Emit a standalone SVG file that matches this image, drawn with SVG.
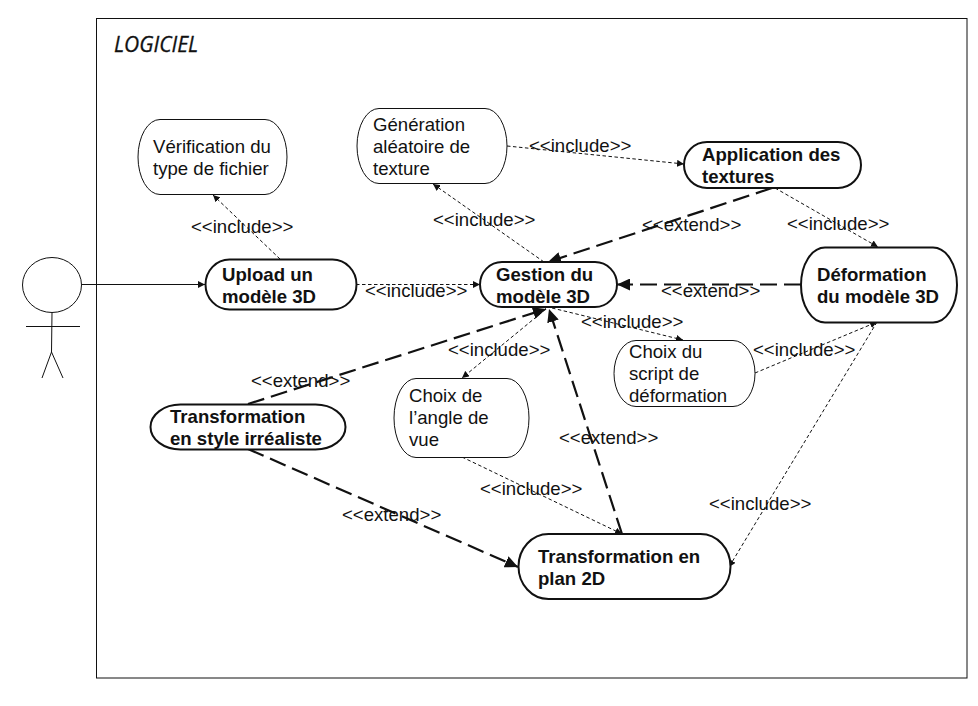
<svg xmlns="http://www.w3.org/2000/svg" width="978" height="706" viewBox="0 0 978 706">
<style>
text{font-family:"Liberation Sans",Arial,sans-serif;font-size:18.6px;fill:#111}
.b{font-weight:bold}
.title{font-family:"Open Sans","Liberation Sans",sans-serif;font-style:italic;font-size:21px;stroke:#111;stroke-width:.3}
.thin{fill:#fff;stroke:#111;stroke-width:1}
.bold{fill:#fff;stroke:#111;stroke-width:2}
.l{fill:none;stroke:#111;stroke-width:1}
.inc{fill:none;stroke:#111;stroke-width:1;stroke-dasharray:3.500 2.500}
.ext{fill:none;stroke:#111;stroke-width:2.200;stroke-dasharray:17 7}
</style>
<defs>
<marker id="s" markerUnits="userSpaceOnUse" markerWidth="8" markerHeight="7" refX="7" refY="3.500" orient="auto"><path d="M0 0L7 3.500L0 7z" fill="#111"/></marker>
<marker id="t" markerUnits="userSpaceOnUse" markerWidth="14" markerHeight="12" refX="13" refY="6" orient="auto"><path d="M0 0L13 6L0 12z" fill="#111"/></marker>
</defs>
<rect x="96.500" y="18.500" width="870.500" height="659.500" fill="#fff" stroke="#111" stroke-width="1"/>
<text class="title" x="114" y="52">LOGICIEL</text>
<g id="actor" class="l">
<ellipse cx="52" cy="285" rx="29.500" ry="27.500"/>
<path d="M52 312.500L51.500 352M26 326.500H80M51.500 352L42 378M51.500 352L63 378"/>
</g>
<g id="connectors">
<path class="l" d="M82 284.500H205" marker-end="url(#s)"/>
<path class="inc" d="M280 259L213 195" marker-end="url(#s)"/>
<path class="inc" d="M544 262L433 184" marker-end="url(#s)"/>
<path class="inc" d="M507 146L684 164" marker-end="url(#s)"/>
<path class="inc" d="M775 188L878 247" marker-end="url(#s)"/>
<path class="inc" d="M356 284.500H480" marker-end="url(#s)"/>
<path class="inc" d="M552 308L683 340" marker-end="url(#s)"/>
<path class="inc" d="M755 373L877 322" marker-end="url(#s)"/>
<path class="inc" d="M877 322L729 567" marker-end="url(#s)"/>
<path class="inc" d="M546 309L462 378" marker-end="url(#s)"/>
<path class="inc" d="M462 457L622 534" marker-end="url(#s)"/>
<path class="ext" d="M772 188L548 262" marker-end="url(#t)"/>
<path class="ext" d="M801 284.500H617" marker-end="url(#t)"/>
<path class="ext" d="M248 404L546 309" marker-end="url(#t)"/>
<path class="ext" d="M622 534L549 309" marker-end="url(#t)"/>
<path class="ext" d="M248 449L518 567" marker-end="url(#t)"/>
</g>
<g id="verif"><rect class="thin" x="138" y="119.500" width="149" height="75" rx="22" ry="37.500"/><text x="153" y="153">Vérification du</text><text x="153" y="175">type de fichier</text></g>
<g id="generation"><rect class="thin" x="357" y="108.500" width="150" height="75" rx="22" ry="37.500"/><text x="373" y="131">Génération</text><text x="373" y="153">aléatoire de</text><text x="373" y="175">texture</text></g>
<g id="upload"><rect class="bold" x="205.500" y="259.500" width="151" height="50" rx="24" ry="25"/><text class="b" x="222" y="281">Upload un</text><text class="b" x="222" y="303">modèle 3D</text></g>
<g id="gestion"><rect class="bold" x="480" y="262" width="137" height="45" rx="22" ry="22.500"/><text class="b" x="496" y="281">Gestion du</text><text class="b" x="496" y="303">modèle 3D</text></g>
<g id="application"><rect class="bold" x="684" y="142" width="177" height="46" rx="23" ry="23"/><text class="b" x="702" y="161">Application des</text><text class="b" x="702" y="183">textures</text></g>
<g id="deformation"><rect class="bold" x="801" y="247.500" width="156" height="75" rx="24" ry="37.500"/><text class="b" x="817" y="281">Déformation</text><text class="b" x="817" y="303">du modèle 3D</text></g>
<g id="script"><rect class="thin" x="614" y="340.500" width="141" height="66" rx="22" ry="33"/><text x="629" y="358">Choix du</text><text x="629" y="380">script de</text><text x="629" y="402">déformation</text></g>
<g id="angle"><rect class="thin" x="394" y="378.500" width="135" height="79" rx="22" ry="39.500"/><text x="409" y="402">Choix de</text><text x="409" y="424">l’angle de</text><text x="409" y="446">vue</text></g>
<g id="style"><rect class="bold" x="150.500" y="404.500" width="195" height="45" rx="30" ry="22.500"/><text class="b" x="170" y="423">Transformation</text><text class="b" x="170" y="445">en style irréaliste</text></g>
<g id="plan"><rect class="bold" x="518.500" y="534" width="212" height="65" rx="30" ry="32.500"/><text class="b" x="538" y="563">Transformation en</text><text class="b" x="538" y="585">plan 2D</text></g>
<g id="labels">
<text x="191" y="233">&lt;&lt;include&gt;&gt;</text>
<text x="433" y="226">&lt;&lt;include&gt;&gt;</text>
<text x="529" y="152">&lt;&lt;include&gt;&gt;</text>
<text x="787" y="230">&lt;&lt;include&gt;&gt;</text>
<text x="642" y="231">&lt;&lt;extend&gt;&gt;</text>
<text x="365" y="297">&lt;&lt;include&gt;&gt;</text>
<text x="661" y="297">&lt;&lt;extend&gt;&gt;</text>
<text x="581" y="328">&lt;&lt;include&gt;&gt;</text>
<text x="753" y="356">&lt;&lt;include&gt;&gt;</text>
<text x="448" y="356">&lt;&lt;include&gt;&gt;</text>
<text x="251" y="387">&lt;&lt;extend&gt;&gt;</text>
<text x="559" y="444">&lt;&lt;extend&gt;&gt;</text>
<text x="480" y="495">&lt;&lt;include&gt;&gt;</text>
<text x="342" y="521">&lt;&lt;extend&gt;&gt;</text>
<text x="709" y="510">&lt;&lt;include&gt;&gt;</text>
</g>
</svg>
